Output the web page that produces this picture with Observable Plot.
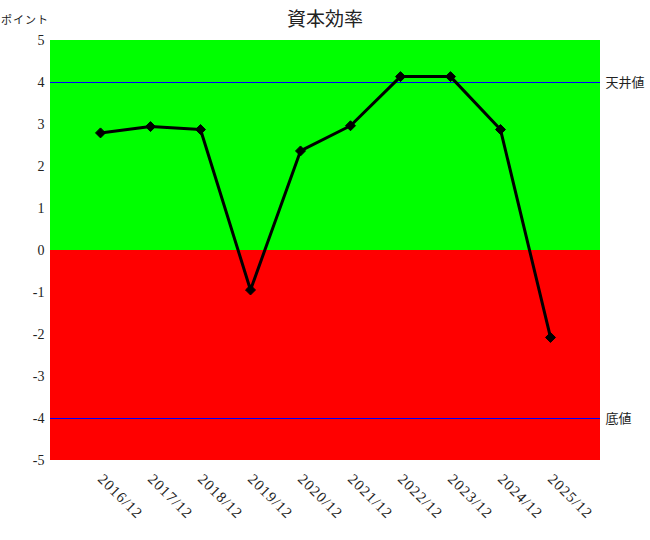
<!DOCTYPE html>
<html>
<head>
<meta charset="utf-8">
<script src="https://cdn.jsdelivr.net/npm/d3@7"></script>
<script src="https://cdn.jsdelivr.net/npm/@observablehq/plot@0.6"></script>
<style>
body { margin: 0; background: #fff; }
#wrap { position: relative; width: 650px; height: 540px; }
#title { position: absolute; left: 0; width: 650px; top: 4px; text-align: center; font-family: "Noto Sans CJK JP", sans-serif; font-size: 19px; color: #222; }
#unit { position: absolute; left: 1px; top: 11px; font-family: "Noto Sans CJK JP", sans-serif; font-size: 11px; color: #222; letter-spacing: 1px; }
#wrap svg g[aria-label="x-axis tick label"],
#wrap svg g[aria-label="x-axis tick label"] text {
  font-family: "Liberation Serif", "Times New Roman", serif !important;
  font-size: 15px !important;
  letter-spacing: 1px;
  fill: #222 !important;
}
#wrap svg g[aria-label="y-axis tick label"],
#wrap svg g[aria-label="y-axis tick label"] text {
  font-family: "Liberation Serif", "Times New Roman", serif !important;
  font-size: 14px !important;
  fill: #222 !important;
}
#wrap svg g.reflabel text { font-family: "Noto Sans CJK JP", sans-serif !important; font-size: 13px !important; }
</style>
</head>
<body>
<div id="wrap">
  <div id="title">資本効率</div>
  <div id="unit">ポイント</div>
</div>
<script>
const periods = ["2016/12","2017/12","2018/12","2019/12","2020/12","2021/12","2022/12","2023/12","2024/12","2025/12"];
const values = [2.80, 2.95, 2.88, -0.94, 2.37, 2.97, 4.14, 4.14, 2.88, -2.07];
const yTicks = [-5,-4,-3,-2,-1,0,1,2,3,4,5];
const refLevels = [4, -4];
const refLabels = ["天井値", "底値"];
const posBand = [{lo: 0, hi: 5}];
const negBand = [{lo: -5, hi: 0}];

const data = periods.map((p, i) => ({period: p, value: values[i]}));
const refs = refLevels.map((v, i) => ({level: v, label: refLabels[i]}));

const chart = Plot.plot({
  width: 650,
  height: 540,
  marginTop: 40,
  marginBottom: 80,
  marginLeft: 50,
  marginRight: 50,
  style: {background: "transparent"},
  x: {type: "point", domain: periods, padding: 1},
  y: {domain: [-5, 5]},
  marks: [
    Plot.rect(posBand, {y1: "lo", y2: "hi", fill: "#00ff00"}),
    Plot.rect(negBand, {y1: "lo", y2: "hi", fill: "#ff0000"}),
    Plot.ruleY(refs, {y: "level", stroke: "#0000ff", strokeWidth: 1}),
    Plot.text(refs, {y: "level", text: "label", frameAnchor: "right", textAnchor: "start", dx: 5, className: "reflabel", fontSize: 13, fill: "#222"}),
    Plot.line(data, {x: "period", y: "value", stroke: "black", strokeWidth: 3}),
    Plot.dot(data, {x: "period", y: "value", symbol: "diamond2", r: 4.5, fill: "black", stroke: "black", strokeWidth: 1}),
    Plot.axisY(yTicks, {tickSize: 0, tickPadding: 6, label: null, tickFormat: d => String(d)}),
    Plot.axisX({tickSize: 0, tickRotate: 45, tickPadding: 16, label: null})
  ]
});
chart.style.position = "absolute";
chart.style.left = "0";
chart.style.top = "0";
document.getElementById("wrap").appendChild(chart);
</script>
</body>
</html>
